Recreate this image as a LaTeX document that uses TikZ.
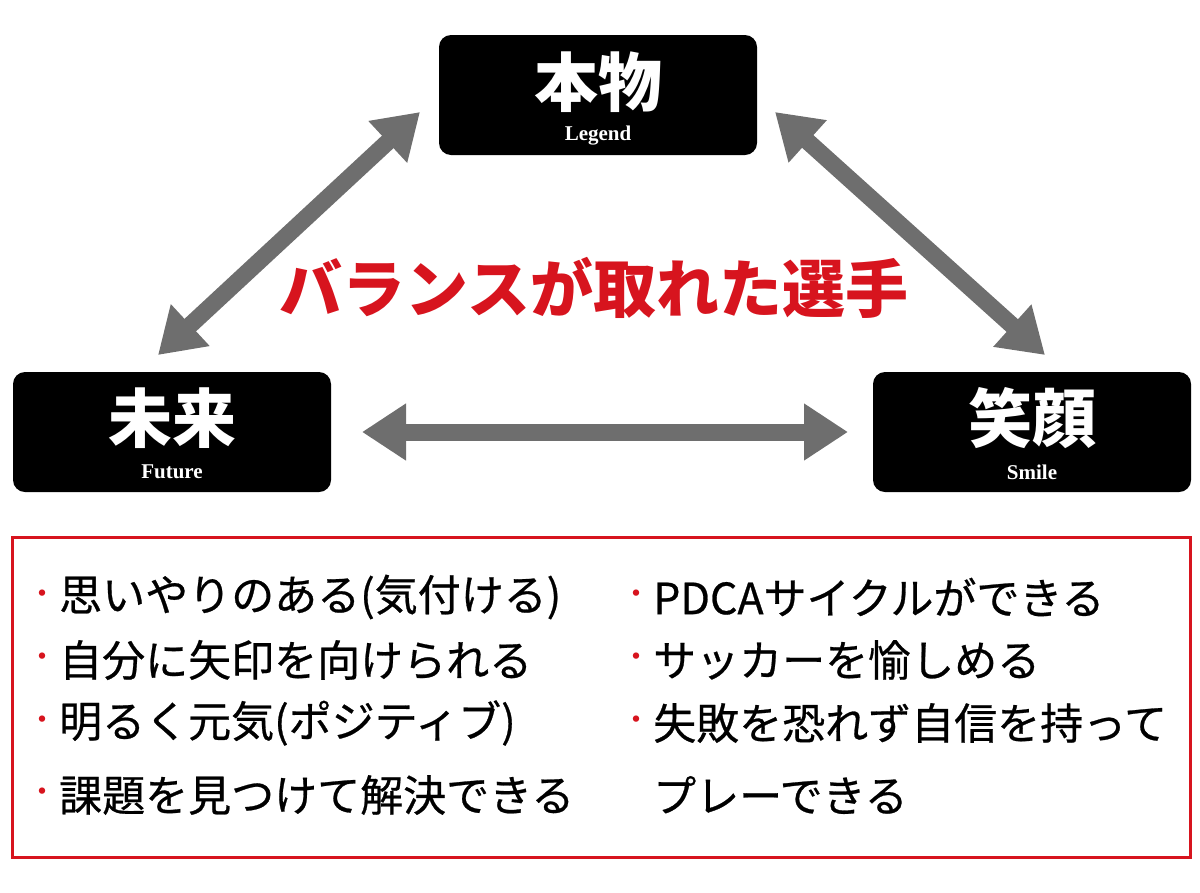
\documentclass[tikz,border=0pt]{standalone}
\usepackage{fontspec}
\usetikzlibrary{arrows.meta}
\newfontfamily\cjk{Noto Sans CJK JP}
\newfontfamily\cjkm{Noto Sans CJK JP}[FakeBold=0.6]
\setmainfont{Liberation Serif}
\definecolor{myred}{HTML}{D7141E}
\definecolor{arrgray}{HTML}{6E6E6E}
\tikzset{
 blk/.style={fill=black,rounded corners=12pt,minimum width=318pt,minimum height=120pt,draw=none},
 big/.style={text=white,font=\cjk\bfseries\fontsize{64}{66}\selectfont},
 sub/.style={text=white,font=\bfseries\fontsize{21}{22}\selectfont},
 dbl/.style={draw=arrgray,line width=17pt,{Triangle[length=44pt,width=54pt]}-{Triangle[length=44pt,width=54pt]}},
 item/.style={anchor=west,font=\cjkm\fontsize{43}{46}\selectfont,inner sep=0pt},
 dot/.style={anchor=west,text=myred,font=\cjk\fontsize{30}{30}\selectfont,inner sep=0pt}
}
\begin{document}
\begin{tikzpicture}[x=1pt,y=-1pt]
\useasboundingbox (0,0) rectangle (1200,892);
\node[blk] (top) at (598,95) {};
\node[blk] (left) at (172,432) {};
\node[blk] (right) at (1032,432) {};
\node[big] at (598,82) {本物};
\node[sub] at (598,136) {Legend};
\node[big] at (172,418) {未来};
\node[sub] at (172,472) {Future};
\node[big] at (1032,418) {笑顔};
\node[sub] at (1032,472) {Smile};
\coordinate (a1) at (158,355); \coordinate (a2) at (420,112);
\coordinate (b1) at (775,112); \coordinate (b2) at (1045,355);
\coordinate (c1) at (362,432); \coordinate (c2) at (848,432);
\draw[dbl] (a1) -- (a2);
\draw[dbl] (b1) -- (b2);
\draw[dbl] (c1) -- (c2);
\node[text=myred,font=\cjk\bfseries\fontsize{63}{66}\selectfont] (title) at (594,288) {バランスが取れた選手};
\draw[myred,line width=3pt] (12,537) rectangle (1190,857);
\foreach \y/\t in {597/思いやりのある(気付ける),660/自分に矢印を向けられる,723/明るく元気(ポジティブ),795/課題を見つけて解決できる}{
 \node[dot] at (27,\y) {・};
 \node[item] at (59,\y) {\t};}
\foreach \y/\t in {597/PDCAサイクルができる,660/サッカーを愉しめる,723/失敗を恐れず自信を持って}{
 \node[dot] at (621,\y) {・};
 \node[item] at (653,\y) {\t};}
\node[item] at (653,795) {プレーできる};
\end{tikzpicture}
\end{document}
